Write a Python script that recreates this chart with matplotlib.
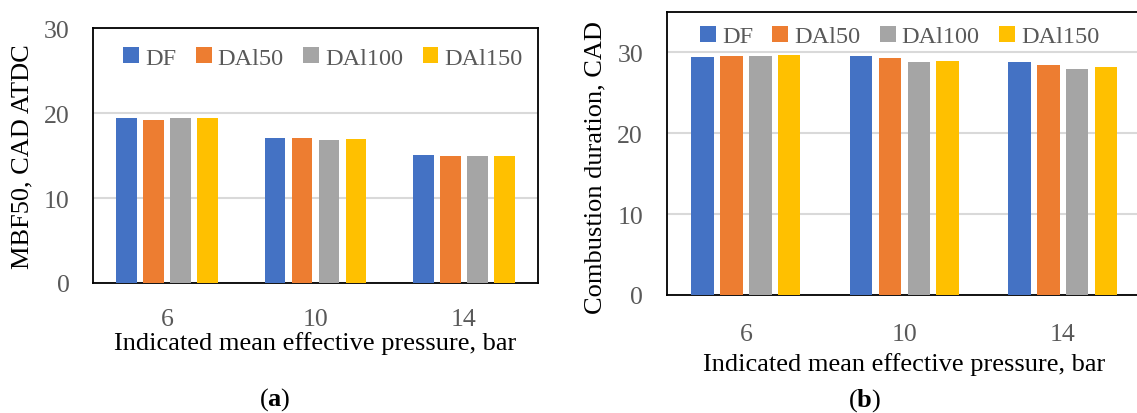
import numpy as np
import matplotlib
matplotlib.use("Agg")
import matplotlib.pyplot as plt

plt.rcParams["font.family"] = ["Liberation Serif", "DejaVu Serif"]
plt.rcParams["mathtext.fontset"] = "custom"
plt.rcParams["mathtext.rm"] = "Liberation Serif"
plt.rcParams["mathtext.bf"] = "Liberation Serif:bold"

imep = ["6", "10", "14"]
fuels = ["DF", "DAl50", "DAl100", "DAl150"]
colors = ["#4472C4", "#ED7D31", "#A5A5A5", "#FFC000"]

# MBF50, CAD ATDC
mbf50 = {
    "DF": [19.4, 17.1, 15.1],
    "DAl50": [19.2, 17.05, 14.9],
    "DAl100": [19.4, 16.8, 14.9],
    "DAl150": [19.4, 16.9, 14.9],
}
# combustion duration, CAD
duration = {
    "DF": [29.4, 29.6, 28.8],
    "DAl50": [29.6, 29.3, 28.4],
    "DAl100": [29.6, 28.8, 28.0],
    "DAl150": [29.7, 29.0, 28.2],
}

W, H = 1137, 414
fig = plt.figure(figsize=(W / 100, H / 100), dpi=100)

gray = "#595959"
tick_fs = 18.5
lab_fs = 19
leg_fs = 17.5


def draw_panel(ax, data, ymax, leg_x, leg_y, xpad, lpad):
    x = np.arange(len(imep))
    stride = 0.182
    width = 0.1415
    for i, fuel in enumerate(fuels):
        ax.bar(x + (i - 1.5) * stride, data[fuel], width, color=colors[i],
               label=fuel, zorder=3)
    ax.set_xlim(-0.5, len(imep) - 0.5)
    ax.set_ylim(0, ymax)
    ax.set_yticks(np.arange(0, ymax + 1, 10))
    ax.set_xticks(x)
    ax.set_xticklabels(imep)
    ax.yaxis.grid(True, color="#D9D9D9", linewidth=1.5, zorder=0)
    ax.set_axisbelow(True)
    ax.tick_params(axis="both", length=0, labelsize=tick_fs, labelcolor=gray)
    ax.tick_params(axis="y", pad=17)
    ax.tick_params(axis="x", pad=xpad)
    for s in ax.spines.values():
        s.set_linewidth(1.3)
        s.set_color("black")
    ax.set_xlabel("Indicated mean effective pressure, bar", fontsize=lab_fs,
                  labelpad=lpad)
    leg = ax.legend(loc="center", bbox_to_anchor=(leg_x, leg_y), ncol=4,
                    frameon=False, fontsize=leg_fs, handlelength=0.65,
                    handleheight=0.65, handletextpad=0.25, columnspacing=0.8)
    for t in leg.get_texts():
        t.set_color(gray)


ax1 = fig.add_axes([93 / W, 1 - 284 / H, 445 / W, 255 / H])
draw_panel(ax1, mbf50, 30, 0.517, 0.882, 18, 1)
fig.text(22 / W, 1 - 156.5 / H, "MBF50, CAD ATDC", rotation=90,
         fontsize=lab_fs, ha="center", va="center")

ax2 = fig.add_axes([666.7 / W, 1 - 296 / H, 475.3 / W, 283 / H])
draw_panel(ax2, duration, 35, 0.49, 0.913, 20, 5)
fig.text(595 / W, 1 - 168 / H, "Combustion duration, CAD", rotation=90,
         fontsize=lab_fs, ha="center", va="center")

fig.text(275 / W, 1 - 400 / H, r"($\mathbf{a}$)", fontsize=lab_fs,
         ha="center", va="center")
fig.text(865 / W, 1 - 401 / H, r"($\mathbf{b}$)", fontsize=lab_fs,
         ha="center", va="center")

fig.savefig("out.png", dpi=100)
